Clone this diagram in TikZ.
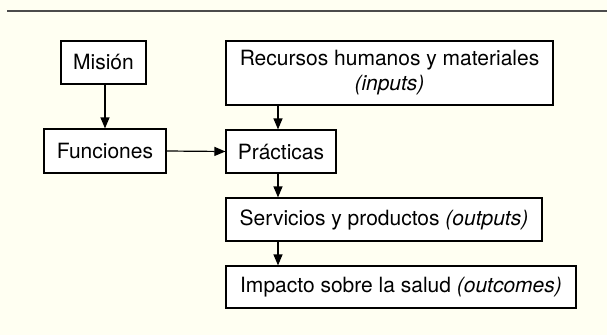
\documentclass[tikz,border=0pt]{standalone}
\usepackage{fontspec}
\setmainfont{TeX Gyre Heros}
\usetikzlibrary{arrows.meta,positioning}
\definecolor{crema}{RGB}{255,255,242}

\begin{document}
\begin{tikzpicture}[x=1pt, y=-1pt,
    caja/.style={draw, fill=white, line width=1.2pt, inner sep=0pt, align=center,
        font=\fontsize{21}{25}\selectfont},
    flecha/.style={-{Triangle[length=11pt, width=9pt]}, line width=1.2pt}]
    % Background
    \fill[crema] (0,0) rectangle (607,335);
    \useasboundingbox (0,0) rectangle (607,335);
    \draw[line width=1.6pt, black!70] (7,11) -- (607,11);

    % Boxes
    \node[caja, minimum width=85pt, minimum height=43pt] (mision) at (103.5,62.5) {Misión};
    \node[caja, minimum width=122pt, minimum height=44pt] (funciones) at (105,151) {Funciones};
    \node[caja, minimum width=327pt, minimum height=64pt] (recursos) at (389.5,73)
        {Recursos humanos y materiales\\\textit{(inputs)}};
    \node[caja, minimum width=110pt, minimum height=43pt] (practicas) at (281,151.5) {Prácticas};
    \node[caja, minimum width=316pt, minimum height=43pt] (servicios) at (384,219.5)
        {Servicios y productos \textit{(outputs)}};
    \node[caja, minimum width=350pt, minimum height=42pt] (impacto) at (401,287)
        {Impacto sobre la salud \textit{(outcomes)}};

    % Arrows
    \coordinate (eje) at (278,0);
    \draw[flecha] (funciones.north |- mision.south) -- (funciones.north);
    \draw[flecha] (funciones.east) -- (practicas.west);
    \draw[flecha] (recursos.south -| eje) -- (practicas.north -| eje);
    \draw[flecha] (practicas.south -| eje) -- (servicios.north -| eje);
    \draw[flecha] (servicios.south -| eje) -- (impacto.north -| eje);
\end{tikzpicture}
\end{document}
